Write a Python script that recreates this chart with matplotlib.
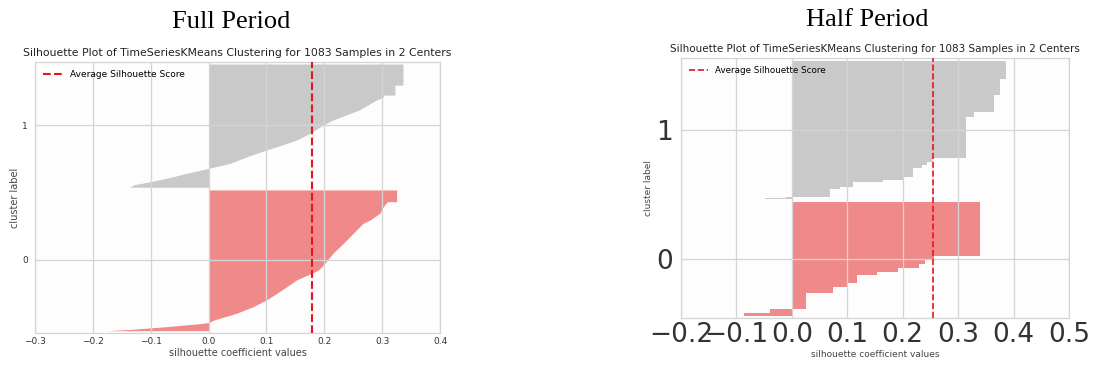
import numpy as np
import matplotlib
matplotlib.use("Agg")
import matplotlib.pyplot as plt

# ---- data ----
titles = ["Full Period", "Half Period"]
subtitle = "Silhouette Plot of TimeSeriesKMeans Clustering for 1083 Samples in 2 Centers"

# Full period: silhouette profile edges (y position, silhouette value)
full_c0_y = [-0.524, -0.513, -0.494, -0.474, -0.464, -0.444, -0.395, -0.346, -0.296,
             -0.247, -0.198, -0.148, -0.099, -0.074, -0.024, 0.050, 0.124, 0.198,
             0.272, 0.296, 0.346, 0.395, 0.432, 0.432, 0.519]
full_c0_s = [-0.176, -0.13, -0.073, -0.02, 0.0, 0.01, 0.048, 0.077, 0.10,
             0.118, 0.135, 0.152, 0.178, 0.19, 0.201, 0.215, 0.233, 0.25,
             0.267, 0.279, 0.296, 0.302, 0.309, 0.325, 0.325]
full_c1_y = [0.539, 0.556, 0.580, 0.605, 0.642, 0.679, 0.716, 0.765, 0.815, 0.839,
             0.889, 0.938, 1.0, 1.037, 1.111, 1.185, 1.205, 1.222, 1.222, 1.296,
             1.296, 1.452]
full_c1_s = [-0.136, -0.13, -0.101, -0.073, -0.038, 0.0, 0.037, 0.066, 0.10, 0.118,
             0.152, 0.175, 0.198, 0.215, 0.26, 0.29, 0.302, 0.302, 0.322, 0.322,
             0.336, 0.336]
full_avg = 0.179

# Half period: step profile (lower edge of each step, value)
half_c0_y = [-0.439, -0.421, -0.390, -0.266, -0.214, -0.183, -0.124, -0.098,
             -0.072, -0.039, -0.008, 0.026, 0.439]
half_c0_s = [-0.087, -0.039, 0.025, 0.075, 0.099, 0.117, 0.153, 0.192,
             0.229, 0.24, 0.256, 0.34, 0.34]
half_c1_y = [0.463, 0.470, 0.483, 0.540, 0.561, 0.599, 0.612, 0.638, 0.703,
             0.729, 0.755, 0.780, 1.098, 1.142, 1.271, 1.395, 1.535]
half_c1_s = [-0.048, -0.01, 0.069, 0.087, 0.111, 0.165, 0.201, 0.219, 0.235,
             0.244, 0.253, 0.314, 0.328, 0.365, 0.376, 0.386, 0.386]
half_avg = 0.254

full_xticks = [-0.3, -0.2, -0.1, 0.0, 0.1, 0.2, 0.3, 0.4]
half_xticks = [-0.2, -0.1, 0.0, 0.1, 0.2, 0.3, 0.4, 0.5]

GRAY = "#c9c9c9"
RED = "#f08a8a"
GRID = "#d4d4d4"

W, H = 1094, 365
fig = plt.figure(figsize=(W / 100, H / 100), dpi=100)


def px_axes(l, t, r, b):
    return fig.add_axes([l / W, 1 - b / H, (r - l) / W, (b - t) / H])


def style(ax, xticks, xlim, ylim, tick_fs, lab_fs, xpad, ypad):
    ax.set_facecolor("#fdfdfd")
    ax.set_xlim(xlim)
    ax.set_ylim(ylim)
    ax.set_xticks(xticks)
    ax.set_xticklabels([f"{v:.1f}".replace("-", "\u2212") for v in xticks])
    ax.set_yticks([0, 1])
    ax.set_yticklabels(["0", "1"])
    ax.grid(True, color=GRID, linewidth=0.9)
    ax.set_axisbelow(False)
    for s in ax.spines.values():
        s.set_color(GRID)
        s.set_linewidth(0.9)
    ax.tick_params(length=0, labelsize=tick_fs, colors="#333333")
    ax.tick_params(axis="x", pad=xpad)
    ax.tick_params(axis="y", pad=ypad)
    ax.set_xlabel("silhouette coefficient values", fontsize=lab_fs, color="#444444", labelpad=1)
    ax.set_ylabel("cluster label", fontsize=lab_fs, color="#444444", labelpad=2)


# ---- left panel: full period ----
ax1 = px_axes(35, 62, 440, 333)
ax1.fill_betweenx(full_c1_y, 0, full_c1_s, color=GRAY, linewidth=0, zorder=1)
ax1.fill_betweenx(full_c0_y, 0, full_c0_s, color=RED, linewidth=0, zorder=1)
ax1.axvline(full_avg, color="#e8141c", linestyle="--", linewidth=1.5,
            label="Average Silhouette Score", zorder=3)
style(ax1, full_xticks, (-0.3, 0.4), (-0.541, 1.467), 6.5, 7, 3, 5)
ax1.legend(loc="upper left", frameon=False, fontsize=6.5, handlelength=2.2)
ax1.set_title(subtitle, fontsize=7.8, color="#222222", pad=4)

# ---- right panel: half period ----
ax2 = px_axes(681, 58, 1069, 318)
ax2.fill_betweenx(half_c1_y, 0, half_c1_s, step="post", color=GRAY, linewidth=0, zorder=1)
ax2.fill_betweenx(half_c0_y, 0, half_c0_s, step="post", color=RED, linewidth=0, zorder=1)
ax2.axvline(half_avg, color="#e8141c", linestyle="--", linewidth=1.2,
            label="Average Silhouette Score", zorder=3)
style(ax2, half_xticks, (-0.2, 0.5), (-0.457, 1.558), 19, 6.5, 3, 6)
ax2.legend(loc="upper left", frameon=False, fontsize=6.3, handlelength=2.2)
ax2.set_title(subtitle, fontsize=7.5, color="#222222", pad=4)

# panel headings
fig.text(231 / W, 1 - 22 / H, titles[0], family="Liberation Serif", fontsize=19,
         ha="center", va="center")
fig.text(867 / W, 1 - 20 / H, titles[1], family="Liberation Serif", fontsize=19,
         ha="center", va="center")

fig.savefig("out.png", dpi=100)
